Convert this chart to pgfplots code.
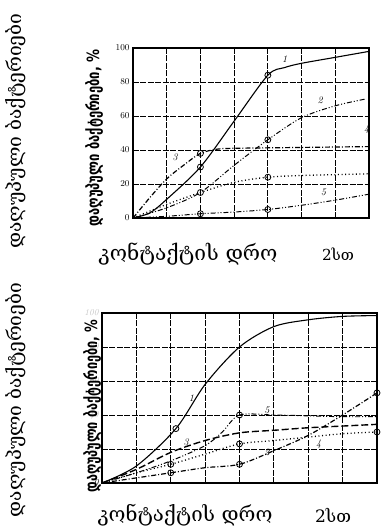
\documentclass[border=0pt]{standalone}
\usepackage{pgfplots}
\pgfplotsset{compat=1.18}
\usepackage{graphicx}
\usepackage{fontspec}
\newfontfamily\geo{DejaVu Serif}
\newfontfamily\geob{DejaVu Sans}
\tikzset{lab/.style={font=\normalsize\itshape}}
\begin{document}
\begin{tikzpicture}
\useasboundingbox (0bp,0bp) rectangle (382bp,529bp);
\pgfplotsset{
  common/.style={scale only axis, ymin=0, ymax=100, ytick={0,20,...,100},
    grid=major, grid style={black, line width=0.8pt, dash pattern=on 6pt off 1.5pt},
    axis line style={line width=1.2pt}, xticklabels={}, major tick length=0pt,
    yticklabel style={font=\small\itshape}},
  mk/.style={only marks, mark=o, mark size=3pt, mark options={solid, fill=white, line width=0.8pt}},
  sol/.style={black, line width=1.1pt, smooth, no marks},
  dd/.style={black, line width=1.0pt, smooth, no marks, dash pattern=on 5pt off 2pt on 1pt off 2pt on 1pt off 2pt},
  dsh/.style={black, line width=1.2pt, smooth, no marks, dash pattern=on 5pt off 2pt on 1pt off 2pt},
  dt/.style={black, line width=1.3pt, smooth, no marks, dash pattern=on 1pt off 2.6pt},
  ld/.style={black, line width=1.4pt, smooth, no marks, dash pattern=on 7pt off 3pt}
}
% ---------- top chart ----------
\begin{axis}[common, at={(133bp,311bp)}, anchor=south west, width=236bp, height=170bp,
  xmin=0, xmax=7, xtick={0,...,7}]
\addplot[sol] coordinates {(0,0) (0.5,3) (1,11) (2,30) (3,57) (4,84) (4.5,88.5) (5,91) (6,94.5) (7,98)};
\addplot[mk] coordinates {(2,30) (4,84)};
\addplot[dd] coordinates {(0,0) (1,6) (2,15) (3,31) (4,46) (5,59) (6,66) (6.9,70)};
\addplot[mk] coordinates {(2,15) (4,46)};
\addplot[dsh] coordinates {(0,0) (0.5,12) (1,23) (1.5,31) (2,38) (2.5,40.5) (3,41) (5,41.5) (7,42)};
\addplot[mk] coordinates {(2,38)};
\addplot[dt] coordinates {(0,0) (1,8) (2,15) (3,21) (4,24) (5,25) (6,25.5) (7,26)};
\addplot[mk] coordinates {(4,24)};
\addplot[dd] coordinates {(0,0) (1,1) (2,2.5) (3,3.5) (4,5) (5,7.5) (6,10.5) (7,14)};
\addplot[mk] coordinates {(2,2.5) (4,5)};
\node[lab] at (axis cs:4.5,93.5) {1};
\node[lab] at (axis cs:5.55,69) {2};
\node[lab] at (axis cs:1.25,35.5) {3};
\node[lab] at (axis cs:6.93,52) {4};
\node[lab] at (axis cs:5.65,15) {5};
\end{axis}
% ---------- bottom chart ----------
\begin{axis}[common, at={(102bp,46bp)}, anchor=south west, width=275bp, height=170bp,
  xmin=0, xmax=8, xtick={0,...,8},
  yticklabel style={font=\small\itshape, text=gray!45},
  yticklabels={\textcolor{black}{0},20,40,60,80,100}]
\addplot[sol] coordinates {(0,0) (1,10) (2.15,32) (3,58) (4,80) (5,92) (6,96) (7,98) (8,98.5)};
\addplot[mk] coordinates {(2.15,32)};
\addplot[dd] coordinates {(0,0) (1,6) (2,13) (3,22) (3.5,30) (4,40) (5,40) (6,39.5) (7,39) (8,39)};
\addplot[mk] coordinates {(4,40)};
\addplot[ld] coordinates {(0,0) (1,8) (2,18) (3,25) (4,29.5) (5,31) (6,32.5) (7,33.5) (8,34.5)};
\addplot[dt] coordinates {(0,0) (1,6) (2,11) (3,17) (4,23) (5,25) (6,27) (7,29) (8,30)};
\addplot[mk] coordinates {(2,11) (4,23) (8,30)};
\addplot[dsh] coordinates {(0,0) (1,3) (2,6) (3,9) (4,11) (5,19) (6,28) (7,40) (8,53)};
\addplot[mk] coordinates {(2,6) (4,11) (8,53)};
\node[lab] at (axis cs:2.6,50) {1};
\node[lab] at (axis cs:4.8,18) {2};
\node[lab] at (axis cs:2.45,24) {3};
\node[lab] at (axis cs:6.3,23) {4};
\node[lab] at (axis cs:4.8,43) {5};
\end{axis}
% ---------- texts ----------
\node[rotate=90] at (16bp,398bp) {\resizebox{235bp}{!}{\geo დაღუპული ბაქტერიები}};
\node[rotate=90] at (16bp,129bp) {\resizebox{234bp}{!}{\geo დაღუპული ბაქტერიები}};
\node[rotate=90] at (94bp,391bp) {\resizebox{177bp}{14bp}{\geob\bfseries დაღუპული ბაქტერიები, \%}};
\node[rotate=90] at (92bp,123bp) {\resizebox{173bp}{14bp}{\geob\bfseries დაღუპული ბაქტერიები, \%}};
\node at (188bp,275bp) {\resizebox{179bp}{!}{\geo კონტაქტის დრო}};
\node at (338bp,275bp) {\resizebox{32bp}{!}{\geo 2სთ}};
\node at (185bp,14bp) {\resizebox{175bp}{!}{\geo კონტაქტის დრო}};
\node at (333bp,14bp) {\resizebox{36bp}{!}{\geo 2სთ}};
\end{tikzpicture}
\end{document}
